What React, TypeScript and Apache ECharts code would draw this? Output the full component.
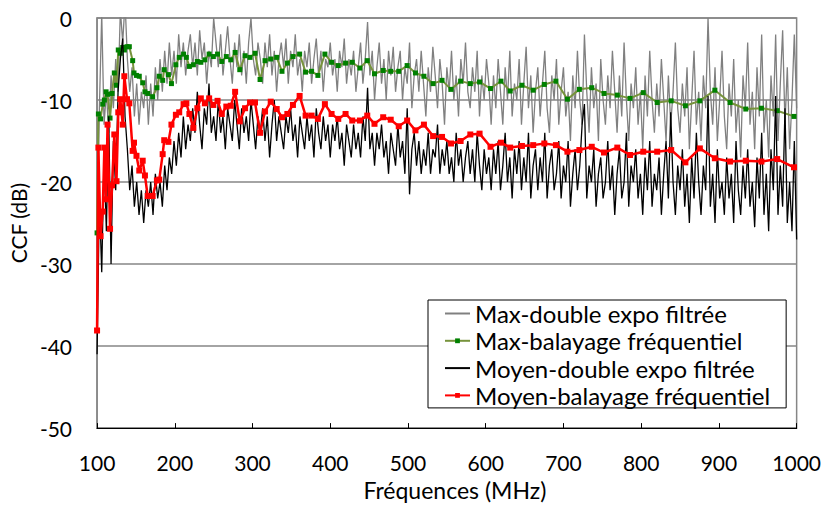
import React, { useEffect, useRef } from "react";
import * as echarts from "echarts";

const FONT = "Lato, 'Liberation Sans', sans-serif";

// Frequency sweep points (MHz) shared by the two swept series
const SWEEP_FREQ = [100, 101.7, 104.5, 107.3, 109.4, 111.6, 113.5, 116.7, 119.3, 122.2, 125.0, 127.3, 129.9, 133.0, 135.1, 138.5, 141.5, 145.8, 147.5, 150.7, 154.3, 158.7, 161.6, 165.1, 171.5, 177.0, 180.0, 184.4, 186.4, 191.8, 195.7, 201.4, 205.7, 211.3, 214.9, 218.8, 223.9, 229.0, 233.5, 238.7, 244.2, 249.6, 255.0, 260.5, 266.3, 272.0, 277.6, 283.6, 290.4, 296.8, 303.2, 309.7, 316.1, 323.4, 331.1, 337.9, 344.8, 352.0, 360.6, 368.3, 376.0, 384.1, 393.1, 401.7, 410.3, 419.7, 428.3, 438.1, 447.6, 456.9, 468.1, 477.8, 488.1, 498.9, 509.6, 520.5, 532.3, 543.8, 555.4, 567.7, 580.2, 592.1, 606.2, 619.6, 631.5, 646.6, 661.1, 675.4, 690.3, 705.1, 720.5, 736.4, 752.2, 769.3, 785.6, 802.7, 820.6, 838.6, 856.9, 875.5, 894.8, 914.4, 934.6, 954.7, 975.0, 996.6];

const MAX_SWEEP = [-26.2, -11.7, -12.3, -10.5, -10.0, -9.0, -9.3, -12.2, -9.2, -6.7, -8.2, -3.9, -4.3, -3.6, -3.9, -3.5, -3.5, -5.2, -6.7, -7.0, -7.1, -7.9, -9.0, -9.2, -9.6, -8.5, -7.1, -7.6, -6.3, -6.9, -8.0, -5.7, -4.8, -4.4, -4.8, -5.9, -5.7, -5.3, -5.4, -5.1, -4.4, -4.7, -4.4, -5.3, -4.7, -5.1, -4.2, -6.3, -4.6, -4.8, -4.3, -7.5, -5.2, -5.0, -4.8, -6.5, -5.5, -4.7, -4.4, -6.6, -6.5, -7.0, -4.4, -5.4, -5.8, -5.5, -5.4, -6.1, -5.2, -6.8, -6.4, -6.5, -6.5, -5.8, -6.7, -7.1, -8.0, -7.6, -8.7, -7.7, -8.0, -7.8, -8.6, -7.7, -8.9, -8.2, -8.8, -8.1, -7.7, -9.9, -8.7, -8.5, -9.2, -9.4, -9.8, -9.1, -10.3, -10.1, -10.7, -10.1, -8.8, -10.3, -11.1, -11.0, -11.3, -12.0];

const MEAN_SWEEP = [-38.1, -15.8, -26.6, -23.6, -15.8, -22.1, -13.0, -25.7, -20.4, -14.2, -19.9, -11.5, -9.9, -13.0, -7.1, -9.9, -10.4, -16.2, -15.2, -16.8, -18.6, -17.4, -19.2, -21.7, -21.7, -19.8, -19.7, -16.6, -14.9, -15.1, -13.0, -11.8, -11.5, -10.5, -10.4, -11.7, -13.4, -11.0, -9.8, -10.4, -9.8, -10.6, -10.1, -11.7, -10.8, -10.7, -9.0, -12.6, -11.0, -10.3, -10.3, -14.0, -11.4, -10.2, -11.1, -12.1, -11.7, -10.6, -9.5, -11.9, -11.9, -12.3, -10.5, -11.7, -12.3, -11.7, -12.5, -12.5, -11.9, -12.9, -12.1, -12.4, -13.2, -12.5, -13.7, -13.0, -14.4, -14.5, -15.3, -15.0, -14.2, -14.1, -15.7, -15.2, -15.8, -15.6, -15.5, -15.3, -15.5, -16.3, -16.1, -15.7, -16.4, -15.8, -16.7, -16.3, -16.3, -16.1, -17.6, -15.9, -17.1, -17.5, -17.4, -17.5, -17.2, -18.2];

// Double-expo measurements, sampled every 3 MHz from 100 MHz
const EXPO_START = 100;
const EXPO_STEP = 3;

const MAX_EXPO = [
  -28, -11, 0.5, -13, -9, -14, -7, -11, -5, -9,
  1, -3, 2, -5, -9, -6, -12, -8, -13, -9,
  -11, -7, -13, -8, -12, -6, -10, -5, -9, -4,
  -8, -3, -7, -4, -8, -2, -6, -3, -7, -4,
  -2, -6, -3, -7, -1.5, -5, -3, -8, -4, -6,
  0, -3, -6, -2, -7, -4, -1, -5, -8, -3,
  -6, -2, -7, -4, -8, -3, 0, -5, -7, -3,
  -5, -8, -3, -6, -2, -7, -4, -9, -5, -3,
  -6, -2.5, -8, -4, -6, -2, -7, -5, -9, -4,
  -6, -3, -8, -5, -2.5, -7, -4, -9, -5, -6,
  -3, -7, -5, -9, -4, -6, -2.5, -8, -5, -7,
  -4, -9, -6, -3, -8, -5, -0.5, -7, -4, -10,
  -6, -3, -8, -5, -10, -4, -7, -3.5, -9, -6,
  -4, -10, -6, -8, -3, -11, -7, -5, -9, -4,
  -8, -12, -6, -9, -3.5, -7, -11, -5, -8, -13,
  -6, -9, -4, -10, -7, -12, -5, -8, -3, -9,
  -11, -6, -9, -4, -12, -7, -10, -5, -8, -13,
  -7, -11, -5, -9, -13, -6, -10, -4, -12, -8,
  -10, -5, -13, -8, -3.5, -11, -7, -14, -9, -6,
  -12, -8, -4, -11, -14, -7, -10, -5, -13, -9,
  -6, -12, -9, -15, -7, -11, -4, -10, -13, -2,
  -9, -14, -6, -11, -8, -15, -5, -10, -13, -7,
  -11, -4, -9, -14, -7, -12, -3, -10, -15, -8,
  -11, -6, -13, -9, -16, -7, -12, -4, -10, -14,
  -8, -12, -5, -10, -15, -7, -13, -9, -3, -11,
  -14, -8, -12, -6, -16, -10, -4, -13, -9, -15,
  -7, -11, 0, -9, -13, -6, -15, -10, -4, -12,
  -16, -8, -12, -5, -14, -10, -17, -7, -11, -3,
  -13, -9, -16, -6, -12, -2, -14, -10, -17, -7,
  -12, -2, -15, -8, -1.5, -13, -6, -16, -10, -2, -11,
];

const MEAN_EXPO = [
  -41, -22, -31, -17, -26, -12, -30, -15, -21, -9,
  -5, -2.5, -12, -16, -21, -18, -23, -20, -24, -21,
  -25, -21, -23, -20, -24, -19, -22, -20, -23, -18,
  -21, -17, -19, -15, -18, -14, -17, -12, -16, -13,
  -15, -11, -14, -9, -13, -16, -11, -13, -8, -14,
  -12, -15, -10, -14, -12, -16, -11, -13, -15, -10,
  -13, -16, -11, -14, -12, -15, -10, -13, -16, -12,
  -14, -11, -15, -12, -17, -13, -10, -15, -12, -14,
  -16, -12, -14, -11, -15, -13, -17, -12, -14, -16,
  -12, -15, -13, -17, -11, -14, -16, -12, -15, -13,
  -17, -13, -15, -12, -16, -14, -18, -13, -15, -17,
  -13, -16, -14, -17, -12, -15, -8.5, -16, -14, -18,
  -14, -16, -13, -17, -15, -19, -14, -16, -18, -13,
  -17, -15, -19, -11, -21.5, -16, -14, -18, -15, -19,
  -16, -18, -14, -19, -16, -17, -13, -19, -16, -18,
  -15, -19, -17, -20, -14, -18, -16, -20, -17, -15,
  -19, -16, -20, -14, -18, -21, -16, -19, -17, -21,
  -16, -19, -15, -21, -18, -14, -20, -17, -22, -16,
  -19, -15, -21, -17, -20, -14, -22, -18, -16, -21,
  -17, -20, -14, -22, -18, -16, -21, -19, -15, -22,
  -18, -20, -15, -23, -19, -16, -21, -18, -13, -10.5,
  -22, -18, -20, -16, -23, -19, -17, -22, -20, -15,
  -21, -18, -24, -19, -16, -22, -20, -14, -23, -18,
  -20, -16, -22, -19, -24, -17, -21, -15, -23, -19,
  -21, -17, -24, -19, -15, -22, -11.5, -20, -24, -18,
  -21, -16, -23, -19, -25, -17, -22, -14, -20, -24,
  -18, -21, -9.5, -23, -19, -25, -16, -22, -20, -24,
  -17, -22, -19, -25, -15, -21, -24, -18, -22, -16,
  -23, -20, -25.5, -17, -22, -14, -24, -19, -26, -16,
  -21, -9.5, -24, -18, -23, -11, -25, -20, -26, -15, -27,
];

const X_TICKS = [100, 200, 300, 400, 500, 600, 700, 800, 900, 1000];
const Y_TICKS = [0, -10, -20, -30, -40, -50];

const SERIES_NAMES = [
  "Max-double expo filtrée",
  "Max-balayage fréquentiel",
  "Moyen-double expo filtrée",
  "Moyen-balayage fréquentiel",
];

export default function App() {
  const ref = useRef<HTMLDivElement>(null);

  useEffect(() => {
    if (!ref.current) return;
    const chart = echarts.init(ref.current, undefined, { renderer: "svg" });

    const expoPairs = (vals: number[]) =>
      vals.map((v, i) => [EXPO_START + i * EXPO_STEP, v]);
    const sweepPairs = (vals: number[]) =>
      vals.map((v, i) => [SWEEP_FREQ[i], v]);

    chart.setOption({
      animation: false,
      backgroundColor: "#ffffff",
      textStyle: { fontFamily: FONT },
      grid: {
        left: 96,
        right: 27,
        top: 18,
        bottom: 75,
        show: true,
        borderColor: "#868686",
        borderWidth: 1.5,
      },
      legend: {
        orient: "vertical",
        left: 428,
        top: 300,
        padding: [1, 16, 0, 16],
        itemGap: 2.3,
        itemWidth: 25,
        itemHeight: 6,
        borderColor: "#000000",
        borderWidth: 1,
        backgroundColor: "#ffffff",
        textStyle: { fontSize: 24, fontFamily: FONT, color: "#000000", lineHeight: 25 },
        data: [
          { name: SERIES_NAMES[0], itemStyle: { opacity: 0 } },
          { name: SERIES_NAMES[1] },
          { name: SERIES_NAMES[2], itemStyle: { opacity: 0 } },
          { name: SERIES_NAMES[3] },
        ],
      },
      xAxis: {
        type: "value",
        min: X_TICKS[0],
        max: X_TICKS[X_TICKS.length - 1],
        interval: 100,
        name: "Fréquences (MHz)",
        nameLocation: "middle",
        nameGap: 48,
        nameTextStyle: { fontSize: 23, fontFamily: FONT, color: "#000000", padding: [0, 0, 0, 16] },
        axisLine: { show: true, onZero: false, lineStyle: { color: "#000000", width: 1 } },
        axisTick: { show: true, inside: true, length: 5, lineStyle: { color: "#000000" } },
        axisLabel: {
          fontSize: 21,
          fontFamily: FONT,
          color: "#000000",
          margin: 24,
          formatter: (v: number) => String(v),
        },
        splitLine: { show: false },
      },
      yAxis: {
        type: "value",
        min: Y_TICKS[Y_TICKS.length - 1],
        max: Y_TICKS[0],
        interval: 10,
        name: "CCF (dB)",
        nameLocation: "middle",
        nameGap: 63,
        nameTextStyle: { fontSize: 21, fontFamily: FONT, color: "#000000" },
        axisLine: { show: true, lineStyle: { color: "#868686", width: 1.5 } },
        axisTick: { show: false },
        axisLabel: {
          fontSize: 21,
          fontFamily: FONT,
          color: "#000000",
          margin: 25,
          formatter: (v: number) => String(v),
        },
        splitLine: { show: true, lineStyle: { color: "#868686", width: 1.5 } },
      },
      series: [
        {
          name: SERIES_NAMES[0],
          type: "line",
          data: expoPairs(MAX_EXPO),
          symbol: "none",
          showSymbol: false,
          lineStyle: { color: "#808080", width: 1.3 },
          itemStyle: { color: "#808080" },
          z: 2,
        },
        {
          name: SERIES_NAMES[1],
          type: "line",
          data: sweepPairs(MAX_SWEEP),
          symbol: "rect",
          symbolSize: 5,
          showSymbol: true,
          lineStyle: { color: "#77933C", width: 2 },
          itemStyle: { color: "#008000" },
          z: 3,
        },
        {
          name: SERIES_NAMES[2],
          type: "line",
          data: expoPairs(MEAN_EXPO),
          symbol: "none",
          showSymbol: false,
          lineStyle: { color: "#000000", width: 1.3 },
          itemStyle: { color: "#000000" },
          z: 4,
        },
        {
          name: SERIES_NAMES[3],
          type: "line",
          data: sweepPairs(MEAN_SWEEP),
          symbol: "rect",
          symbolSize: 6,
          showSymbol: true,
          lineStyle: { color: "#FF0000", width: 2.5 },
          itemStyle: { color: "#FF0000" },
          z: 5,
        },
      ],
    });

    return () => chart.dispose();
  }, []);

  return (
    <div
      ref={ref}
      style={{ position: "absolute", left: 0, top: 0, width: 824, height: 506 }}
    />
  );
}
